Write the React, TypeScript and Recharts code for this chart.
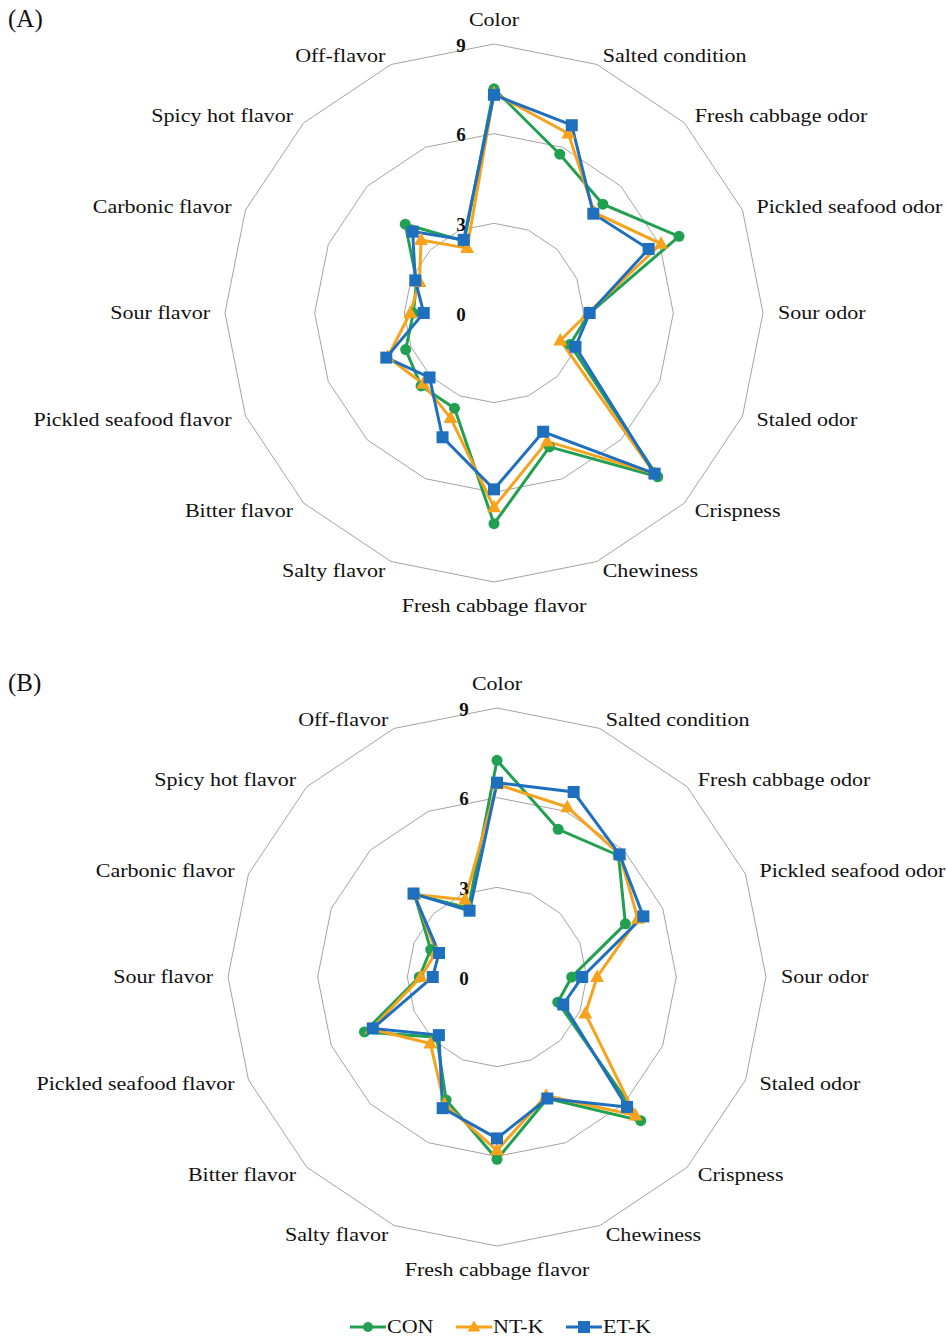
import { RadarChart, Radar, PolarGrid, PolarAngleAxis, PolarRadiusAxis } from "recharts";

const categories = [
  "Color",
  "Salted condition",
  "Fresh cabbage odor",
  "Pickled seafood odor",
  "Sour odor",
  "Staled odor",
  "Crispness",
  "Chewiness",
  "Fresh cabbage flavor",
  "Salty flavor",
  "Bitter flavor",
  "Pickled seafood flavor",
  "Sour flavor",
  "Carbonic flavor",
  "Spicy hot flavor",
  "Off-flavor",
];

const radiusTicks = [0, 3, 6, 9];

// panel (A)
const conA = [7.5, 5.75, 5.15, 6.7, 3.2, 2.75, 7.75, 4.85, 7.05, 3.45, 3.45, 3.2, 2.7, 2.8, 4.2, 2.6];
const ntkA = [7.35, 6.5, 4.75, 6.05, 3.15, 2.4, 7.6, 4.65, 6.5, 3.8, 3.35, 3.85, 2.8, 2.7, 3.45, 2.35];
const etkA = [7.3, 6.8, 4.7, 5.6, 3.2, 2.95, 7.6, 4.3, 5.9, 4.5, 3.05, 3.9, 2.35, 2.85, 3.85, 2.65];

// panel (B)
const conB = [7.25, 5.35, 5.75, 4.65, 2.5, 2.2, 6.8, 4.4, 6.1, 4.45, 2.85, 4.8, 2.6, 2.4, 3.9, 2.5];
const ntkB = [6.45, 6.15, 5.8, 5.1, 3.35, 3.2, 6.55, 4.3, 5.8, 4.6, 3.15, 4.55, 2.55, 2.2, 3.9, 2.8];
const etkB = [6.5, 6.7, 5.8, 5.3, 2.85, 2.4, 6.15, 4.4, 5.4, 4.75, 2.75, 4.5, 2.15, 2.1, 3.95, 2.4];

const GREEN = "#22a052";
const ORANGE = "#f7a21c";
const BLUE = "#1f6fbf";
const FONT = "'Liberation Serif', 'Times New Roman', serif";
const STRETCH = 1.16; // labels in the source look horizontally stretched

const R = 269;

function buildRows(con: number[], ntk: number[], etk: number[]) {
  return categories.map((name, i) => ({ name, CON: con[i], "NT-K": ntk[i], "ET-K": etk[i] }));
}

const circleDot = (p: any) => (
  <circle key={`c${p.index}`} cx={p.cx} cy={p.cy} r={5.5} fill={GREEN} stroke="none" />
);
const triDot = (p: any) => (
  <path
    key={`t${p.index}`}
    d={`M${p.cx},${p.cy - 7.5} L${p.cx + 7},${p.cy + 5} L${p.cx - 7},${p.cy + 5} Z`}
    fill={ORANGE}
    stroke="none"
  />
);
const squareDot = (p: any) => (
  <rect key={`s${p.index}`} x={p.cx - 6} y={p.cy - 6} width={12} height={12} fill={BLUE} stroke="none" />
);

function makeAngleTick(cx: number, cy: number) {
  return (props: any) => {
    const i = props.index;
    const deg = 90 - i * 22.5;
    const rad = (deg * Math.PI) / 180;
    const cos = Math.cos(rad);
    const sin = Math.sin(rad);
    const vx = cx + R * cos;
    const vy = cy - R * sin;
    const vertical = Math.abs(cos) < 0.01;
    const x = vx + 15 * cos;
    const y = vy - sin * (vertical ? 24 : 10);
    const anchor = vertical ? "middle" : cos > 0 ? "start" : "end";
    return (
      <text
        transform={`translate(${x},${y}) scale(${STRETCH},1)`}
        x={0}
        y={0}
        textAnchor={anchor}
        dominantBaseline="central"
        fontFamily={FONT}
        fontSize={19}
        fill="#111"
      >
        {categories[i]}
      </text>
    );
  };
}

const radiusTick = (props: any) => (
  <text
    x={props.x - 33}
    y={props.y + 1}
    textAnchor="middle"
    dominantBaseline="central"
    fontFamily={FONT}
    fontSize={19}
    fontWeight="bold"
    fill="#111"
  >
    {props.payload.value}
  </text>
);

function Panel({
  label,
  top,
  cx,
  cy,
  con,
  ntk,
  etk,
}: {
  label: string;
  top: number;
  cx: number;
  cy: number;
  con: number[];
  ntk: number[];
  etk: number[];
}) {
  const rows = buildRows(con, ntk, etk);
  return (
    <div style={{ position: "absolute", left: 0, top, width: 946, height: 650 }}>
      <div
        style={{
          position: "absolute",
          left: 8,
          top: cy - 308,
          fontFamily: FONT,
          fontSize: 25,
          color: "#111",
        }}
      >
        {label}
      </div>
      <RadarChart
        width={946}
        height={650}
        data={rows}
        cx={cx}
        cy={cy}
        outerRadius={R}
        startAngle={90}
        endAngle={-270}
        margin={{ top: 0, right: 0, bottom: 0, left: 0 }}
      >
        <PolarGrid gridType="polygon" radialLines={false} stroke="#a3a3a3" strokeWidth={1} />
        <PolarAngleAxis dataKey="name" axisLine={false} tickLine={false} tick={makeAngleTick(cx, cy)} />
        <PolarRadiusAxis
          angle={90}
          domain={[0, 9]}
          ticks={radiusTicks}
          tickCount={4}
          axisLine={false}
          tickLine={false}
          tick={radiusTick}
        />
        <Radar
          dataKey="CON"
          stroke={GREEN}
          strokeWidth={3}
          fill="none"
          fillOpacity={0}
          dot={circleDot}
          isAnimationActive={false}
        />
        <Radar
          dataKey="NT-K"
          stroke={ORANGE}
          strokeWidth={3}
          fill="none"
          fillOpacity={0}
          dot={triDot}
          isAnimationActive={false}
        />
        <Radar
          dataKey="ET-K"
          stroke={BLUE}
          strokeWidth={3}
          fill="none"
          fillOpacity={0}
          dot={squareDot}
          isAnimationActive={false}
        />
      </RadarChart>
    </div>
  );
}

function LegendItem({ color, name, shape }: { color: string; name: string; shape: "circle" | "tri" | "square" }) {
  return (
    <div style={{ display: "flex", alignItems: "center", marginRight: 18 }}>
      <svg width={38} height={16}>
        <line x1={1} y1={8} x2={37} y2={8} stroke={color} strokeWidth={3} />
        {shape === "circle" && <circle cx={19} cy={8} r={5} fill={color} />}
        {shape === "tri" && <path d="M19,1.5 L25.5,12.5 L12.5,12.5 Z" fill={color} />}
        {shape === "square" && <rect x={13} y={2} width={12} height={12} fill={color} />}
      </svg>
      <span
        style={{
          display: "inline-block",
          fontFamily: FONT,
          fontSize: 19,
          color: "#111",
          transform: `scaleX(${STRETCH})`,
          transformOrigin: "left center",
          width: name === "CON" ? 50 : 54,
        }}
      >
        {name}
      </span>
    </div>
  );
}

export default function App() {
  return (
    <div style={{ position: "absolute", left: 0, top: 0, width: 946, height: 1340, background: "#fff" }}>
      <Panel label="(A)" top={0} cx={494} cy={313} con={conA} ntk={ntkA} etk={etkA} />
      <Panel label="(B)" top={660} cx={497} cy={317} con={conB} ntk={ntkB} etk={etkB} />
      <div
        style={{
          position: "absolute",
          left: 349,
          top: 1316,
          display: "flex",
          alignItems: "center",
        }}
      >
        <LegendItem color={GREEN} name="CON" shape="circle" />
        <LegendItem color={ORANGE} name="NT-K" shape="tri" />
        <LegendItem color={BLUE} name="ET-K" shape="square" />
      </div>
    </div>
  );
}
